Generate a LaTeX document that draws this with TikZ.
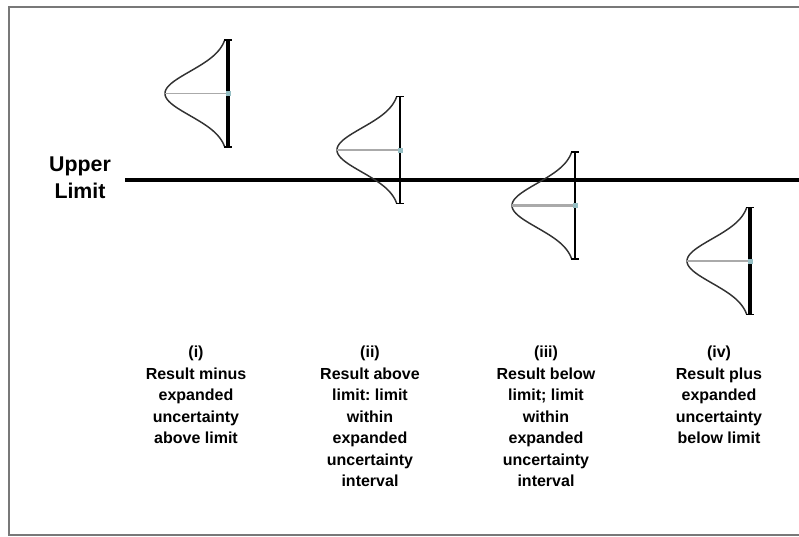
\documentclass[tikz,border=0pt]{standalone}
\usepackage{fontspec}
\setmainfont{Liberation Sans}
\frenchspacing
\definecolor{framegray}{RGB}{120,120,120}
\definecolor{meangray}{RGB}{170,170,170}
\definecolor{dotteal}{RGB}{150,190,195}
\definecolor{bellgray}{RGB}{50,50,50}

% A bell curve lying on its side against a vertical interval bar.
% #1 bar x, #2 mean y, #3 bar style, #4 mean-line style, #5 name prefix
\newcommand{\bellcurve}[5]{%
  \coordinate (#5top) at (#1,#2-53.5);
  \coordinate (#5bot) at (#1,#2+53.5);
  \coordinate (#5mean) at (#1,#2);
  \coordinate (#5peak) at (#1-63,#2);
  \draw[bell] plot[domain=-53.5:53.5, samples=90, smooth]
    ({#1-63*exp(-(\x*\x)/(2*22*22))}, {#2+\x});
  \draw[#4] (#5peak) -- (#5mean);
  \draw[#3] (#5top) -- (#5bot);
  \draw[barcap] ([xshift=-3]#5top) -- ([xshift=3]#5top);
  \draw[barcap] ([xshift=-3]#5bot) -- ([xshift=3]#5bot);
  \fill[dotteal] ([shift={(-2.5,-2.5)}]#5mean) rectangle ([shift={(2.5,2.5)}]#5mean);
}

\begin{document}
\begin{tikzpicture}[x=0.75pt, y=-0.75pt,
  frameline/.style={draw=framegray, line width=1.3pt},
  bell/.style={draw=bellgray, line width=1.1pt},
  thickbar/.style={draw=black, line width=2.6pt},
  thinbar/.style={draw=black, line width=1.1pt},
  barcap/.style={draw=black, line width=1.1pt},
  thinmean/.style={draw=meangray, line width=1.1pt},
  thickmean/.style={draw=meangray, line width=2.2pt},
  limitline/.style={draw=black, line width=2.5pt},
  caption/.style={align=center, inner sep=0pt, anchor=north,
    font=\bfseries\fontsize{12}{16.1}\selectfont},
  limitlabel/.style={align=center, inner sep=0pt, anchor=north,
    font=\bfseries\fontsize{16}{20}\selectfont}]
\useasboundingbox (0,0) rectangle (799,536);

% outer frame
\draw[frameline] (799,7) -- (9,7) -- (9,535) -- (799,535);

% the upper limit
\node[limitlabel] (lbl) at (80,157) {Upper\\Limit};
\coordinate (limL) at (125,180);
\coordinate (limR) at (799,180);
\draw[limitline] (limL) -- (limR);

% the four cases
\bellcurve{228}{93.5}{thickbar}{thinmean}{a}
\bellcurve{400}{150}{thinbar}{thinmean}{b}
\bellcurve{575}{205.5}{thinbar}{thickmean}{c}
\bellcurve{750}{261}{thickbar}{thickmean}{d}

% captions
\node[caption] (capi) at (196,346) {(i)\\Result minus\\expanded\\uncertainty\\above limit};
\node[caption] (capii) at (370,346) {(ii)\\Result above\\limit: limit\\within\\expanded\\uncertainty\\interval};
\node[caption] (capiii) at (546,346) {(iii)\\Result below\\limit; limit\\within\\expanded\\uncertainty\\interval};
\node[caption] (capiv) at (719,346) {(iv)\\Result plus\\expanded\\uncertainty\\below limit};
\end{tikzpicture}
\end{document}
